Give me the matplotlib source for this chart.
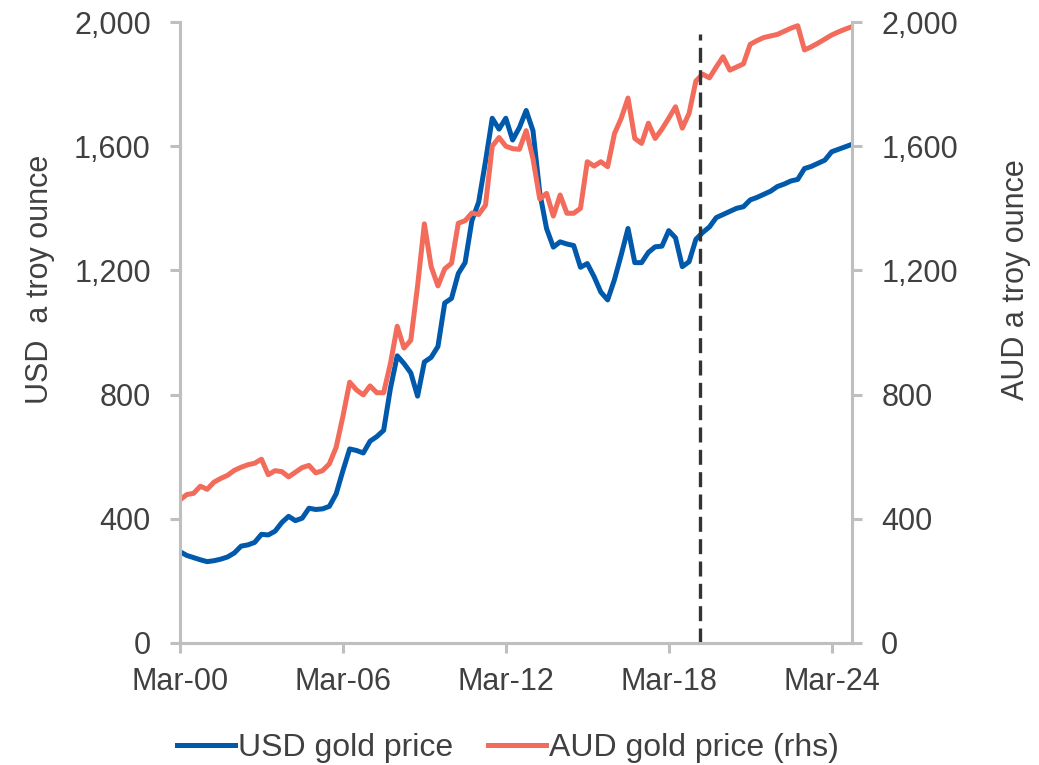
import matplotlib
matplotlib.use("Agg")
import matplotlib.pyplot as plt
import numpy as np

plt.rcParams['font.family'] = ['Liberation Sans', 'DejaVu Sans']

# quarterly gold prices, Mar-00 to Dec-24
usd_price = [294, 282, 275, 268, 262, 265, 270, 277, 290, 312,
             316, 324, 350, 348, 360, 388, 408, 394, 402, 434,
             430, 432, 440, 480, 555, 625, 620, 612, 650, 665,
             685, 820, 925, 900, 870, 795, 905, 920, 955, 1095,
             1110, 1190, 1225, 1360, 1420, 1550, 1690, 1655, 1690, 1620,
             1660, 1715, 1650, 1450, 1335, 1275, 1292, 1285, 1280, 1210,
             1222, 1180, 1130, 1105, 1170, 1250, 1335, 1225, 1225, 1258,
             1276, 1278, 1328, 1305, 1212, 1228, 1300, 1322, 1340, 1370,
             1380, 1390, 1400, 1405, 1427, 1435, 1445, 1455, 1470, 1478,
             1488, 1493, 1528, 1535, 1545, 1555, 1582, 1590, 1598, 1606]
aud_price = [461, 478, 482, 505, 495, 518, 530, 540, 556, 566,
             574, 579, 592, 542, 555, 552, 535, 550, 565, 572,
             548, 555, 577, 630, 730, 840, 815, 799, 828, 806,
             806, 900, 1020, 950, 975, 1150, 1350, 1212, 1150, 1205,
             1223, 1352, 1360, 1385, 1380, 1410, 1600, 1628, 1600, 1592,
             1590, 1650, 1560, 1430, 1448, 1375, 1443, 1384, 1384, 1400,
             1550, 1536, 1550, 1534, 1640, 1690, 1755, 1625, 1609, 1674,
             1625, 1655, 1690, 1727, 1658, 1706, 1810, 1832, 1820, 1855,
             1888, 1845, 1855, 1865, 1928, 1940, 1950, 1955, 1960, 1970,
             1980, 1988, 1910, 1920, 1932, 1945, 1958, 1968, 1977, 1985]
tick_labels = ["Mar-00", "Mar-06", "Mar-12", "Mar-18", "Mar-24"]
y_ticks = [0, 400, 800, 1200, 1600, 2000]
forecast_start = 76.6

quarters = np.arange(len(usd_price))
blue = "#0059ab"
red = "#f26b5b"
grey = "#bfbfbf"
text_col = "#404040"

fig = plt.figure(figsize=(10.39, 7.65), dpi=100)
ax = fig.add_axes([180 / 1039, 1 - 643 / 765, 672 / 1039, 621 / 765])
ax2 = ax.twinx()

ax.plot(quarters, usd_price, color=blue, lw=3.6, solid_joinstyle="round", label="USD gold price")
ax2.plot(quarters, aud_price, color=red, lw=3.6, solid_joinstyle="round", label="AUD gold price (rhs)")
ax2.axvline(forecast_start, ymax=0.98, color="#333333", lw=2.4, dashes=(4.5, 2.2))

for a in (ax, ax2):
    a.set_xlim(0, len(usd_price) - 1)
    a.set_ylim(0, 2000)
    a.set_yticks(y_ticks)
    a.set_yticklabels([f"{v:,}" for v in y_ticks])
    a.spines["top"].set_visible(False)
    for s in ("left", "right", "bottom"):
        a.spines[s].set_color(grey)
        a.spines[s].set_linewidth(2.2)
    a.tick_params(colors=grey, labelcolor=text_col, labelsize=22, width=2.2, length=7, pad=14)

ax.set_xticks(np.arange(0, len(usd_price), 24))
ax.set_xticklabels(tick_labels)
ax.tick_params(axis="x", pad=10)

ax.set_ylabel("USD  a troy ounce", fontsize=22, color=text_col)
ax.yaxis.set_label_coords(-0.186, 0.585)
ax2.set_ylabel("AUD a troy ounce", fontsize=22, color=text_col)
ax2.yaxis.set_label_coords(1.222, 0.585)

h1, l1 = ax.get_legend_handles_labels()
h2, l2 = ax2.get_legend_handles_labels()
fig.legend(h1 + h2, l1 + l2, loc="center", bbox_to_anchor=(508 / 1039, 1 - 748 / 765),
           ncol=2, frameon=False, fontsize=23, handlelength=1.8, handletextpad=0.1,
           columnspacing=1.1, labelcolor=text_col)

fig.savefig("out.png", dpi=100)
